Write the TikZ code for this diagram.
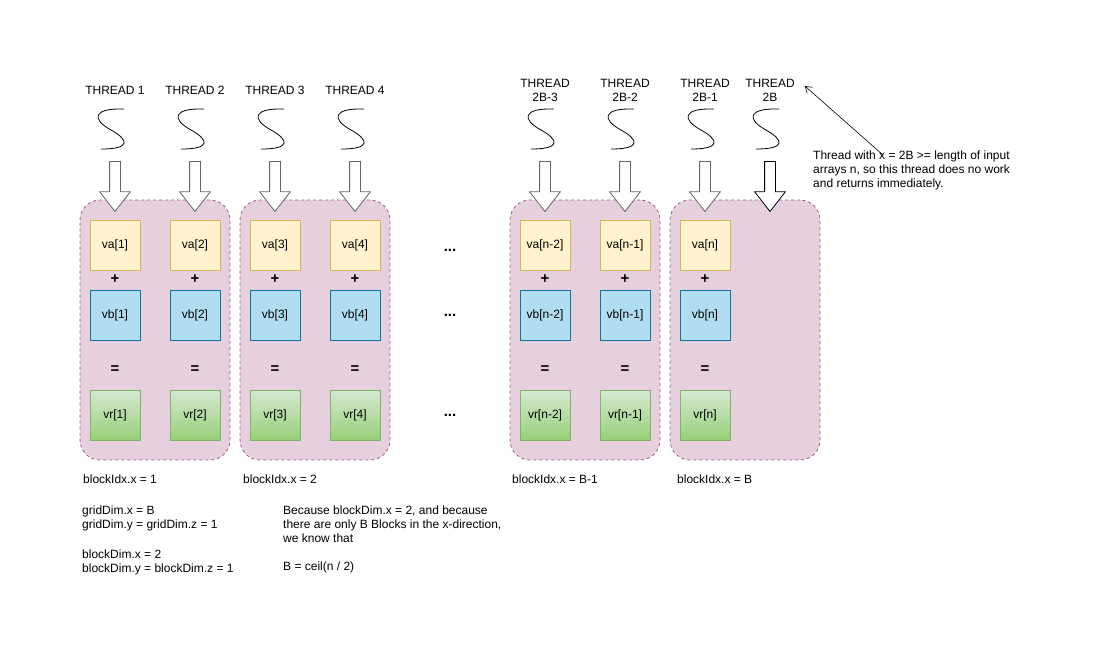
\documentclass[tikz,border=0pt]{standalone}
\usepackage{fontspec}
\setmainfont{Liberation Sans}
\usetikzlibrary{shapes,arrows.meta,positioning}
\definecolor{blockfill}{HTML}{E6D0DE}
\definecolor{blockedge}{HTML}{996185}
\definecolor{vafill}{HTML}{FFF2CC}
\definecolor{vaedge}{HTML}{D6B656}
\definecolor{vbfill}{HTML}{B1DDF0}
\definecolor{vbedge}{HTML}{10739E}
\definecolor{vrtop}{HTML}{D5E8D4}
\definecolor{vrbot}{HTML}{97D077}
\definecolor{vredge}{HTML}{82B366}
\tikzstyle{txt} = [font=\fontsize{12}{14}\selectfont, inner sep=0pt]
\tikzstyle{gridblock} = [draw=blockedge, fill=blockfill, dashed, line width=0.8pt, rounded corners=20pt, minimum width=150pt, minimum height=260pt]
\tikzstyle{cell} = [txt, line width=0.8pt, minimum width=50pt, minimum height=50pt]
\tikzstyle{vacell} = [cell, draw=vaedge, fill=vafill]
\tikzstyle{vbcell} = [cell, draw=vbedge, fill=vbfill]
\tikzstyle{vrcell} = [cell, draw=vredge, top color=vrtop, bottom color=vrbot]
\tikzstyle{oper} = [txt, font=\fontsize{15}{16}\selectfont\bfseries]
\tikzstyle{threadarrow} = [draw=black!60, fill=white, line width=0.8pt, single arrow, rotate=-90, minimum height=50pt, single arrow head extend=10pt, single arrow tip angle=76, inner xsep=0pt, inner ysep=5pt]
\tikzstyle{squig} = [draw, line width=0.8pt]
\tikzstyle{note} = [txt, anchor=north west, align=left]
\newcommand{\vadata}[2]{node (a#1) [vacell] {va[#2]}}
\newcommand{\vbdata}[2]{node (b#1) [vbcell] {vb[#2]}}
\newcommand{\vrdata}[2]{node (r#1) [vrcell] {vr[#2]}}
\newcommand{\squiggle}[1]{\path[squig,shift={(#1)}] (13,0) .. controls (-18,-1) and (-20,10) .. (0,21) .. controls (18,31) and (20,40) .. (-10,40);}

\begin{document}
\begin{tikzpicture}[x=1pt,y=-1pt]
\useasboundingbox (0,0) rectangle (1096,649);
% thread blocks
\node (g1) [gridblock] at (155,330) {};
\node (g2) [gridblock] at (315,330) {};
\node (g3) [gridblock] at (585,330) {};
\node (g4) [gridblock] at (745,330) {};

% threads
\foreach \i/\c/\lbl in {1/115/THREAD 1,2/195/THREAD 2,3/275/THREAD 3,4/355/THREAD 4,
    5/545/THREAD\\2B-3,6/625/THREAD\\2B-2,7/705/THREAD\\2B-1,8/770/THREAD\\2B} {
  \node (t\i) [txt, align=center] at (\c,90) {\lbl};
  \squiggle{\c-4,109}
}
\foreach \i/\c in {1/115,2/195,3/275,4/355,5/545,6/625,7/705}
  \node (h\i) [threadarrow] at (\c,183) {};
\node (h8) [threadarrow, draw=black] at (770,183) {};

% vectors
\foreach \i/\c/\k in {1/115/1,2/195/2,3/275/3,4/355/4,5/545/n-2,6/625/n-1,7/705/n} {
  \path (\c,245) \vadata{\i}{\k};
  \path (\c,315) \vbdata{\i}{\k};
  \path (\c,415) \vrdata{\i}{\k};
  \node (p\i) [oper] at (\c,279) {+};
  \node (e\i) [oper] at (\c,370) {=};
}
\foreach \y/\n in {250/1,315/2,415/3}
  \node (d\n) [oper] at (450,\y) {...};

% block indices
\node (l1) [note] at (83,475) {blockIdx.x = 1};
\node (l2) [note] at (243,475) {blockIdx.x = 2};
\node (l3) [note] at (512,475) {blockIdx.x = B-1};
\node (l4) [note] at (677,475) {blockIdx.x = B};
\node (gd) [note] at (82,506) {gridDim.x = B\\gridDim.y = gridDim.z = 1};
\node (bd) [note] at (82,550) {blockDim.x = 2\\blockDim.y = blockDim.z = 1};
\node (ex) [note] at (283,506) {Because blockDim.x = 2, and because\\there are only B Blocks in the x-direction,\\we know that\\[14pt]B = ceil(n / 2)};

% idle thread
\node (nt) [note] at (813,151) {Thread with x = 2B >= length of input\\arrays n, so this thread does no work\\and returns immediately.};
\draw [-{Straight Barb[length=6pt,width=8pt]}, line width=0.6pt] ([xshift=70pt,yshift=-4pt]nt.north west) -- ([xshift=10pt,yshift=4pt]t8.east);
\end{tikzpicture}
\end{document}
